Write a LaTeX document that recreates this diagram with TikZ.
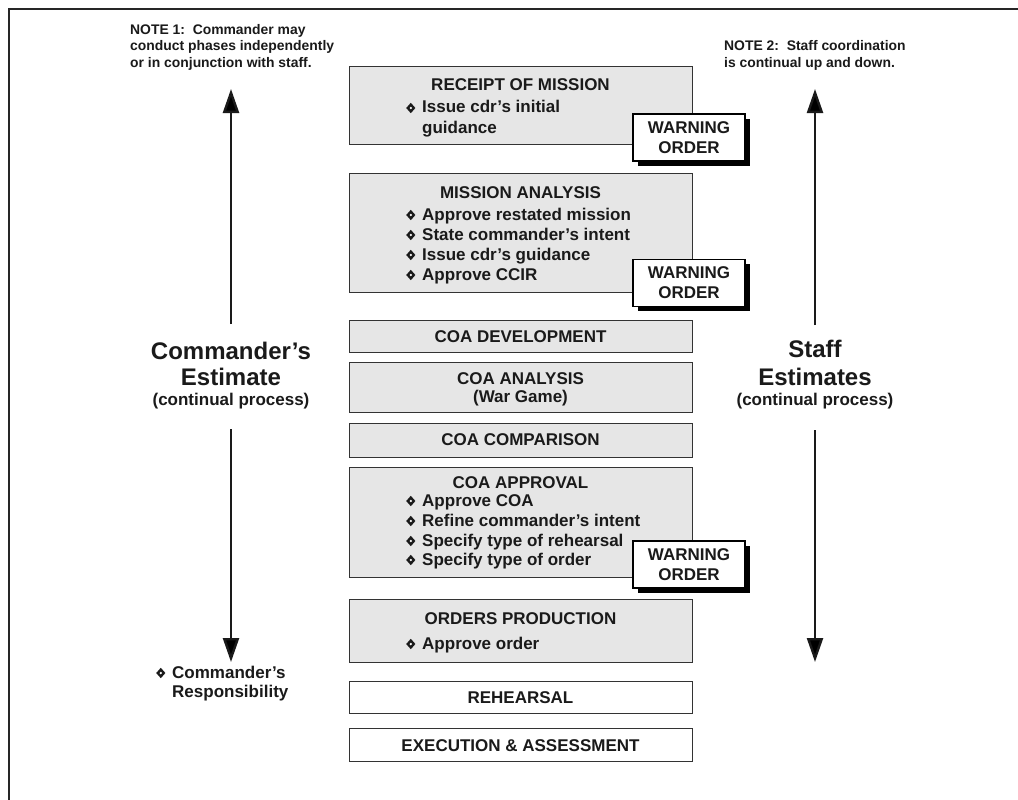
\documentclass[tikz,border=0pt]{standalone}
\usepackage{fontspec}
\setmainfont{Liberation Sans}
\usetikzlibrary{arrows.meta,shadows}
\definecolor{boxgray}{HTML}{E6E6E6}
\definecolor{ink}{HTML}{1A1A1A}
\newcommand\dmd{\makebox[16pt][l]{\tikz[x=1pt,y=1pt,baseline=0pt]{\fill[ink] (0,-0.2)--(4.6,5)--(0,10.2)--(-4.6,5)--cycle;\fill[white] (0,5) circle (1.3);}}}
\begin{document}
\begin{tikzpicture}[x=1pt,y=-1pt,
  procbox/.style={draw=black!80, line width=1.3pt, fill=boxgray, anchor=north west, inner sep=0pt, minimum width=343pt},
  plainbox/.style={draw=black!80, line width=1.3pt, fill=white, anchor=north west, inner sep=0pt, minimum width=343pt},
  txt/.style={inner sep=0pt, font=\fontsize{17}{20}\selectfont\bfseries, text=ink},
  ttl/.style={txt, anchor=base},
  itm/.style={txt, anchor=base west},
  big/.style={inner sep=0pt, anchor=base, text=ink, font=\fontsize{24}{28}\selectfont\bfseries},
  note/.style={inner sep=0pt, anchor=base west, text=ink, font=\fontsize{13.9}{16}\selectfont\bfseries},
  warn/.style={draw=black, line width=1.3pt, fill=white, minimum width=112pt, minimum height=47pt, inner sep=0pt, align=center, text=ink,
    font=\fontsize{17}{20}\selectfont\bfseries,
    drop shadow={shadow xshift=4.5pt, shadow yshift=-4.5pt, fill=black, opacity=1}},
  arr/.style={line width=2.4pt, draw=ink, -{Triangle[length=24pt,width=16pt]}}
]
\useasboundingbox (0,0) rectangle (1018,800);
\fill[white] (0,0) rectangle (1018,800);
% frame
\coordinate (fr1) at (1018,9);
\coordinate (fr2) at (9,9);
\coordinate (fr3) at (9,800);
\draw[line width=2.6pt, black!85] (fr1) -- (fr2) -- (fr3);

% notes
\node[note] (n1a) at (130,35) {NOTE 1:\ \ Commander may};
\node[note] (n1b) at (130,51) {conduct phases independently};
\node[note] (n1c) at (130,67) {or in conjunction with staff.};
\node[note] (n2a) at (724,51) {NOTE 2:\ \ Staff coordination};
\node[note] (n2b) at (724,67) {is continual up and down.};

% process boxes
\node[procbox, minimum height=78pt] (rom) at (349,66) {};
\node[ttl] (romt) at (520.5,91) {RECEIPT OF MISSION};
\node[itm] (rom1) at (406,113) {\dmd Issue cdr’s initial};
\node[itm] (rom2) at (422,133) {guidance};

\node[procbox, minimum height=119pt] (ma) at (349,173) {};
\node[ttl] (mat) at (520.5,198) {MISSION ANALYSIS};
\node[itm] (ma1) at (406,220) {\dmd Approve restated mission};
\node[itm] (ma2) at (406,240) {\dmd State commander’s intent};
\node[itm] (ma3) at (406,260) {\dmd Issue cdr’s guidance};
\node[itm] (ma4) at (406,280) {\dmd Approve CCIR};

\node[procbox, minimum height=32pt] (cd) at (349,320) {};
\node[ttl] (cdt) at (520.5,342) {COA DEVELOPMENT};

\node[procbox, minimum height=50pt] (ca) at (349,362) {};
\node[ttl] (cat) at (520.5,384) {COA ANALYSIS};
\node[ttl] (ca1) at (520.5,402) {(War Game)};

\node[procbox, minimum height=34pt] (cc) at (349,423) {};
\node[ttl] (cct) at (520.5,445) {COA COMPARISON};

\node[procbox, minimum height=110pt] (cap) at (349,467) {};
\node[ttl] (capt) at (520.5,488) {COA APPROVAL};
\node[itm] (cap1) at (406,506) {\dmd Approve COA};
\node[itm] (cap2) at (406,526) {\dmd Refine commander’s intent};
\node[itm] (cap3) at (406,546) {\dmd Specify type of rehearsal};
\node[itm] (cap4) at (406,565) {\dmd Specify type of order};

\node[procbox, minimum height=63pt] (op) at (349,599) {};
\node[ttl] (opt) at (520.5,624) {ORDERS PRODUCTION};
\node[itm] (op1) at (406,649) {\dmd Approve order};

\node[plainbox, minimum height=32pt] (reh) at (349,681) {};
\node[ttl] (reht) at (520.5,703) {REHEARSAL};

\node[plainbox, minimum height=33pt] (ex) at (349,728) {};
\node[ttl] (ext) at (520.5,751) {EXECUTION \& ASSESSMENT};

% warning orders
\node[warn] (w1) at (689,137.5) {WARNING\\ORDER};
\node[warn] (w2) at (689,283) {WARNING\\ORDER};
\node[warn] (w3) at (689,564.5) {WARNING\\ORDER};

% left estimate
\node[big] (ce1) at (231,359) {Commander’s};
\node[big] (ce2) at (231,385) {Estimate};
\node[ttl] (ce3) at (231,405) {(continual process)};
\coordinate (lu1) at (231,324);
\coordinate (lu2) at (231,89);
\coordinate (ld1) at (231,429);
\coordinate (ld2) at (231,662);
\draw[arr] (lu1) -- (lu2);
\draw[arr] (ld1) -- (ld2);

% right estimate
\node[big] (se1) at (815,357) {Staff};
\node[big] (se2) at (815,385) {Estimates};
\node[ttl] (se3) at (815,405) {(continual process)};
\coordinate (ru1) at (815,325);
\coordinate (ru2) at (815,89);
\coordinate (rd1) at (815,430);
\coordinate (rd2) at (815,662);
\draw[arr] (ru1) -- (ru2);
\draw[arr] (rd1) -- (rd2);

% responsibility legend
\node[itm] (cr1) at (156,678) {\dmd Commander’s};
\node[itm] (cr2) at (172,697) {Responsibility};
\end{tikzpicture}
\end{document}
